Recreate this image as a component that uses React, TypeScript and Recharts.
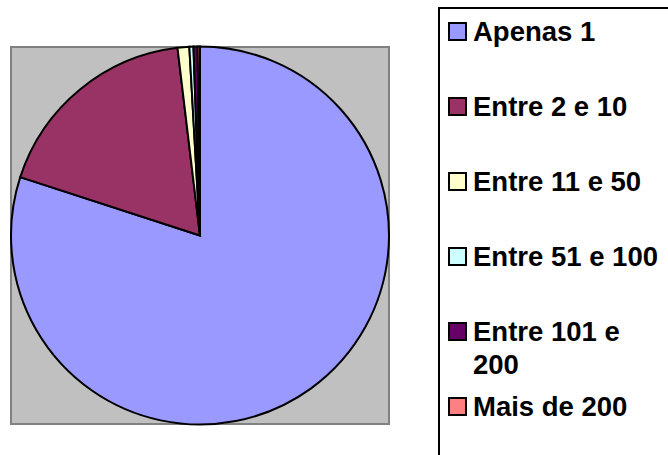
import React from 'react';
import { PieChart, Pie, Cell, Legend } from 'recharts';

const categories = ['Apenas 1', 'Entre 2 e 10', 'Entre 11 e 50', 'Entre 51 e 100', 'Entre 101 e 200', 'Mais de 200'];
const shares = [80.0, 18.1, 1.0, 0.35, 0.35, 0.2];
const colors = ['#9999FF', '#993366', '#FFFFCC', '#CCFFFF', '#660066', '#FF8080'];

const data = categories.map((name, i) => ({ name, value: shares[i] }));

// legend keeps the series order (recharts would sort the payload by name)
const LegendBox = () => {
  return (
    <div
      style={{
        position: 'relative',
        width: 240,
        height: 460,
        border: '2px solid #000',
        background: '#fff',
        boxSizing: 'border-box',
      }}
    >
      {categories.map((name, i) => (
        <div
          key={name}
          style={{
            position: 'absolute',
            left: 0,
            top: 6 + i * 75,
            display: 'flex',
            alignItems: 'flex-start',
          }}
        >
          <div
            style={{
              marginLeft: 8,
              marginTop: 7,
              width: 19,
              height: 19,
              boxSizing: 'border-box',
              border: '2px solid #000',
              background: colors[i],
              flexShrink: 0,
            }}
          />
          <div
            style={{
              marginLeft: 6,
              width: 195,
              fontFamily: '"Liberation Sans", Arial, sans-serif',
              fontWeight: 'bold',
              fontSize: 27.5,
              lineHeight: '33px',
              color: '#000',
            }}
          >
            {name}
          </div>
        </div>
      ))}
    </div>
  );
};

const App: React.FC = () => {
  return (
    <div style={{ position: 'absolute', left: 0, top: 0, width: 668, height: 455, overflow: 'hidden', background: '#fff' }}>
      <div
        style={{
          position: 'absolute',
          left: 10,
          top: 46,
          width: 380,
          height: 379,
          background: '#C0C0C0',
          border: '2px solid #808080',
          boxSizing: 'border-box',
        }}
      />
      <PieChart width={668} height={455} margin={{ top: 0, right: 0, bottom: 0, left: 0 }} style={{ position: 'absolute', left: 0, top: 0 }}>
        <Pie
          data={data}
          dataKey="value"
          nameKey="name"
          cx={200}
          cy={235.5}
          outerRadius={189}
          startAngle={90}
          endAngle={-270}
          stroke="#000"
          strokeWidth={2}
          isAnimationActive={false}
        >
          {data.map((d, i) => (
            <Cell key={d.name} fill={colors[i]} />
          ))}
        </Pie>
        <Legend
          layout="vertical"
          content={<LegendBox />}
          wrapperStyle={{ position: 'absolute', left: 438, top: 7, width: 240, height: 460 }}
        />
      </PieChart>
    </div>
  );
};

export default App;
